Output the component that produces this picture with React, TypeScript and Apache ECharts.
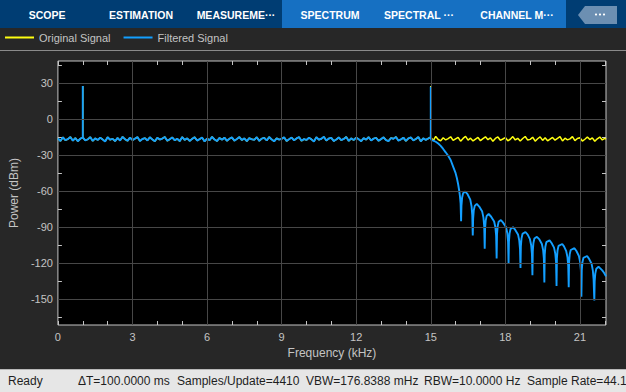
import React, { useEffect, useRef } from 'react';
import * as echarts from 'echarts';

// ---------- data ----------
const binStepKHz = 0.1;

// Original signal noise floor, dBm, at 0.0, 0.1, ... 22.0 kHz
const originalFloor = [
  -16.0, -18.2, -15.1, -17.5, -16.6, -14.8, -17.9, -15.7, -18.4, -16.3,
  -15.2, -17.6, -16.8, -14.9, -18.1, -16.0, -17.3, -15.4, -16.9, -18.5,
  -15.0, -17.1, -16.4, -18.3, -15.6, -17.8, -14.7, -16.7, -18.0, -15.3,
  -17.4, -16.2, -14.9, -18.2, -16.5, -15.8, -17.7, -15.1, -16.9, -18.4,
  -15.5, -17.0, -16.1, -14.8, -18.0, -16.7, -15.2, -17.6, -16.3, -18.3,
  -14.9, -17.3, -15.9, -18.1, -16.4, -15.0, -17.8, -16.6, -15.3, -18.5,
  -16.1, -17.5, -14.7, -16.9, -18.2, -15.6, -17.1, -15.4, -18.0, -16.3,
  -15.2, -17.9, -16.5, -14.9, -17.4, -16.0, -18.3, -15.7, -16.8, -17.2,
  -15.0, -18.1, -16.2, -15.5, -17.7, -14.8, -16.9, -18.4, -15.9, -17.0,
  -16.4, -15.1, -18.2, -16.7, -15.3, -17.6, -16.0, -14.9, -18.0, -16.6,
  -17.3, -15.4, -16.8, -18.5, -15.0, -17.1, -16.3, -14.7, -17.8, -16.1,
  -15.6, -18.2, -16.9, -15.2, -17.5, -16.4, -14.8, -18.1, -16.0, -17.4,
  -15.3, -16.7, -18.3, -15.8, -17.0, -14.9, -17.7, -16.2, -15.5, -18.0,
  -16.6, -15.1, -17.4, -18.2, -15.7, -16.3, -14.8, -17.9, -16.8, -15.4,
  -18.1, -16.0, -15.2, -17.6, -16.5, -14.9, -18.4, -15.9, -17.2, -16.1,
  -15.0, -17.8, -14.4, -16.9, -18.0, -15.5, -17.3, -16.2, -14.6, -17.7,
  -16.4, -15.1, -18.3, -16.0, -14.3, -17.5, -15.8, -18.1, -16.6, -15.2,
  -17.9, -16.2, -14.7, -17.1, -15.6, -18.4, -16.0, -14.8, -17.6, -16.5,
  -15.3, -18.0, -16.7, -14.5, -17.3, -15.9, -18.2, -16.1, -14.4, -17.4,
  -16.8, -15.0, -18.3, -16.3, -14.7, -17.7, -15.5, -18.0, -16.6, -15.2,
  -17.5, -16.0, -14.6, -18.1, -15.8, -17.2, -16.4, -14.5, -17.9, -16.1,
  -15.4, -18.2, -16.7, -14.8, -17.0, -15.6, -18.4, -16.3, -14.9, -17.3,
  -16.0,
];
const originalEndFreq = 22.05;
const originalEndPower = -16.6;

// Filtered signal noise floor (passband follows the original), dBm, at 0.0 ... 15.0 kHz
const filteredFloor = [
  -16.0, -18.2, -15.1, -17.5, -16.6, -14.8, -17.9, -15.7, -18.4, -16.3,
  -15.2, -17.6, -16.8, -14.9, -18.1, -16.0, -17.3, -15.4, -16.9, -18.5,
  -15.0, -17.1, -16.4, -18.3, -15.6, -17.8, -14.7, -16.7, -18.0, -15.3,
  -17.4, -16.2, -14.9, -18.2, -16.5, -15.8, -17.7, -15.1, -16.9, -18.4,
  -15.5, -17.0, -16.1, -14.8, -18.0, -16.7, -15.2, -17.6, -16.3, -18.3,
  -14.9, -17.3, -15.9, -18.1, -16.4, -15.0, -17.8, -16.6, -15.3, -18.5,
  -16.1, -17.5, -14.7, -16.9, -18.2, -15.6, -17.1, -15.4, -18.0, -16.3,
  -15.2, -17.9, -16.5, -14.9, -17.4, -16.0, -18.3, -15.7, -16.8, -17.2,
  -15.0, -18.1, -16.2, -15.5, -17.7, -14.8, -16.9, -18.4, -15.9, -17.0,
  -16.4, -15.1, -18.2, -16.7, -15.3, -17.6, -16.0, -14.9, -18.0, -16.6,
  -17.3, -15.4, -16.8, -18.5, -15.0, -17.1, -16.3, -14.7, -17.8, -16.1,
  -15.6, -18.2, -16.9, -15.2, -17.5, -16.4, -14.8, -18.1, -16.0, -17.4,
  -15.3, -16.7, -18.3, -15.8, -17.0, -14.9, -17.7, -16.2, -15.5, -18.0,
  -16.6, -15.1, -17.4, -18.2, -15.7, -16.3, -14.8, -17.9, -16.8, -15.4,
  -18.1, -16.0, -15.2, -17.6, -16.5, -14.9, -18.4, -15.9, -17.2, -16.1,
  -15.0,
];

// Tones (kHz) and their peak power (dBm)
const toneFreqs = [1, 15];
const originalTonePeaks = [27.7, 27.7];
const filteredTonePeaks = [27.7, 27.1];

// Filtered signal above the passband: stopband roll-off and side lobes
const rolloffFreq = [
  15.02, 15.1, 15.2, 15.3, 15.4, 15.5, 15.6, 15.7, 15.8, 15.9, 16.0, 16.05, 16.1, 16.14, 16.17, 16.2, 16.22,
  16.235, 16.26, 16.3, 16.39, 16.48, 16.59, 16.64, 16.67, 16.69,
  16.705, 16.73, 16.77, 16.85, 16.95, 17.07, 17.12, 17.15, 17.17,
  17.185, 17.21, 17.25, 17.33, 17.43, 17.55, 17.6, 17.63, 17.65,
  17.665, 17.69, 17.73, 17.82, 17.91, 18.03, 18.08, 18.11, 18.13,
  18.145, 18.17, 18.21, 18.31, 18.4, 18.51, 18.56, 18.59, 18.61,
  18.625, 18.65, 18.69, 18.81, 18.9, 18.99, 19.04, 19.07, 19.09,
  19.105, 19.13, 19.17, 19.27, 19.37, 19.47, 19.52, 19.55, 19.57,
  19.585, 19.61, 19.65, 19.78, 19.86, 19.96, 20.01, 20.04, 20.06,
  20.075, 20.1, 20.14, 20.29, 20.36, 20.45, 20.5, 20.53, 20.55,
  20.565, 20.59, 20.63, 20.78, 20.86, 20.96, 21.01, 21.04, 21.06,
  21.075, 21.1, 21.14, 21.29, 21.37, 21.47, 21.52, 21.55, 21.58,
  21.595, 21.62, 21.66, 21.75, 21.83, 21.9, 21.97, 22.05,
];
const rolloffPower = [
  -17.2, -17.8, -18.8, -20.3, -22.2, -24.8, -27.6, -30.5, -34, -39.5, -45, -49, -54, -59, -63.5, -70, -85,
  -72, -65.5, -61.8, -60.3, -62.5, -67, -72.5, -80, -97,
  -83, -76, -72.2, -70.6, -72.8, -77, -82, -89, -108,
  -91, -84.5, -80.6, -79, -81.3, -85.2, -90, -97, -116,
  -96, -89.5, -85.4, -84, -86.2, -90, -95, -102, -120,
  -102, -95.2, -91.4, -90, -92.3, -96, -101, -108, -124,
  -106, -99.5, -95.6, -94, -96.2, -100, -105, -112, -130,
  -110, -103.2, -99.4, -98, -100.2, -104, -109, -116, -136,
  -113, -106.3, -102.5, -101, -103.2, -107, -112, -119, -139,
  -116, -109.4, -105.6, -104, -106, -110, -115, -122, -140,
  -119, -112.6, -109, -107.5, -109.8, -114, -119, -126, -148,
  -126, -119.5, -115.6, -114, -116.4, -120.5, -126, -133, -151,
  -135, -128.5, -124.6, -123, -124.5, -126, -128, -131,
];

// Axes
const xRange = [0, 22.05];
const yRange = [-171.5, 48.5];
const xMajorTicks = [0, 3, 6, 9, 12, 15, 18, 21];
const xMinorTicks = [1, 2, 4, 5, 7, 8, 10, 11, 13, 14, 16, 17, 19, 20, 22];
const yMajorTicks = [30, 0, -30, -60, -90, -120, -150];
const yMinorTicks = [45, 15, -15, -45, -75, -105, -135, -165];

// Texts
const seriesNames = ['Original Signal', 'Filtered Signal'];
const tabLabels = ['SCOPE', 'ESTIMATION', 'MEASUREME\u00B7\u00B7\u00B7', 'SPECTRUM', 'SPECTRAL \u00B7\u00B7\u00B7', 'CHANNEL M\u00B7\u00B7\u00B7'];
const statusItems = ['Ready', '\u0394T=100.0000 ms', 'Samples/Update=4410', 'VBW=176.8388 mHz', 'RBW=10.0000 Hz', 'Sample Rate=44.1'];

// ---------- build ----------
function buildFloor(floor: number[], peaks: number[]) {
  const out: number[][] = [];
  floor.forEach((v, i) => {
    const f = Math.round(i * binStepKHz * 100) / 100;
    out.push([f, v]);
    const k = toneFreqs.indexOf(f);
    if (k >= 0) {
      out.push([f, peaks[k]]);
      out.push([f, v]);
    }
  });
  return out;
}

const FONT = '"Liberation Sans", Arial, Helvetica, sans-serif';
const AXIS_C = '#c4c4c4';
const GRID_C = '#474747';

export default function App() {
  const ref = useRef<HTMLDivElement>(null);

  useEffect(() => {
    document.body.style.margin = '0';
    const chart = echarts.init(ref.current!, null, { renderer: 'svg' });

    const originalData = buildFloor(originalFloor, originalTonePeaks);
    originalData.push([originalEndFreq, originalEndPower]);
    const filteredData = buildFloor(filteredFloor, filteredTonePeaks);
    rolloffFreq.forEach((f, i) => filteredData.push([f, rolloffPower[i]]));

    const xTicksAll = [...xMajorTicks, ...xMinorTicks].sort((a, b) => a - b);
    const yTicksAll = [...yMajorTicks, ...yMinorTicks].sort((a, b) => a - b);

    const tabCenters = [47, 141, 236, 330, 419, 517];
    const statusX = [8, 78, 177, 306, 424, 527];

    const graphic: any[] = [
      { type: 'rect', z: 0, shape: { x: 0, y: 0, width: 626, height: 28 }, style: { fill: '#003d73' } },
      { type: 'rect', z: 1, shape: { x: 282, y: 0, width: 284, height: 28 }, style: { fill: '#1670c2' } },
      ...tabLabels.map((t, i) => ({
        type: 'text', z: 2, x: tabCenters[i], y: 15,
        style: { text: t, fill: '#ffffff', fontSize: 10.5, fontWeight: 'bold', fontFamily: FONT, align: 'center', verticalAlign: 'middle' },
      })),
      { type: 'polygon', z: 2, shape: { points: [[585, 6], [617, 6], [617, 24], [585, 24], [578, 15]] }, style: { fill: '#6c8fb2' } },
      ...[596, 600, 604].map((cx) => ({ type: 'circle', z: 3, shape: { cx, cy: 14.5, r: 1.1 }, style: { fill: '#ffffff' } })),
      { type: 'line', z: 2, shape: { x1: 0, y1: 50.5, x2: 626, y2: 50.5 }, style: { stroke: '#8a8a8a', lineWidth: 1 } },
      { type: 'rect', z: 0, shape: { x: 0, y: 370, width: 626, height: 22 }, style: { fill: '#e6e6e6' } },
      { type: 'line', z: 1, shape: { x1: 0, y1: 369.5, x2: 626, y2: 369.5 }, style: { stroke: '#b8b8b8', lineWidth: 1 } },
      ...statusItems.map((t, i) => ({
        type: 'text', z: 2, x: statusX[i], y: 381,
        style: { text: t, fill: '#1e1e1e', fontSize: 12, fontFamily: FONT, align: 'left', verticalAlign: 'middle' },
      })),
    ];

    const tickAxisBase = {
      type: 'value' as const,
      axisLine: { show: false, onZero: false },
      splitLine: { show: false },
    };

    const option: any = {
      animation: false,
      backgroundColor: '#272727',
      textStyle: { fontFamily: FONT },
      graphic,
      legend: {
        left: 5, top: 32, padding: 0, icon: 'rect', itemWidth: 29, itemHeight: 2, itemGap: 13,
        textStyle: { color: '#c4c4c4', fontSize: 11, fontFamily: FONT },
        data: seriesNames,
        selectedMode: false,
      },
      grid: {
        left: 55, top: 61, width: 551, height: 264,
        show: true, backgroundColor: '#000000', borderColor: AXIS_C, borderWidth: 1,
        containLabel: false,
      },
      xAxis: [
        {
          ...tickAxisBase, position: 'bottom', min: xRange[0], max: xRange[1],
          name: 'Frequency (kHz)', nameLocation: 'middle', nameGap: 22,
          nameTextStyle: { color: AXIS_C, fontSize: 12, fontFamily: FONT },
          axisTick: { show: true, inside: true, length: 4, customValues: xTicksAll, lineStyle: { color: AXIS_C } },
          axisLabel: { show: true, customValues: xMajorTicks, color: AXIS_C, fontSize: 11, margin: 6, fontFamily: FONT },
        },
        {
          ...tickAxisBase, position: 'top', min: xRange[0], max: xRange[1],
          axisTick: { show: true, inside: true, length: 4, customValues: xTicksAll, lineStyle: { color: AXIS_C } },
          axisLabel: { show: false },
        },
      ],
      yAxis: [
        {
          ...tickAxisBase, position: 'left', min: yRange[0], max: yRange[1],
          name: 'Power (dBm)', nameLocation: 'middle', nameGap: 35,
          nameTextStyle: { color: AXIS_C, fontSize: 12, fontFamily: FONT },
          axisTick: { show: true, inside: true, length: 4, customValues: yTicksAll, lineStyle: { color: AXIS_C } },
          axisLabel: { show: true, customValues: yMajorTicks, color: AXIS_C, fontSize: 11, margin: 5, fontFamily: FONT },
        },
        {
          ...tickAxisBase, position: 'right', min: yRange[0], max: yRange[1],
          axisTick: { show: true, inside: true, length: 4, customValues: yTicksAll, lineStyle: { color: AXIS_C } },
          axisLabel: { show: false },
        },
      ],
      series: [
        {
          name: 'grid', type: 'line', z: 1, silent: true,
          data: [[xRange[0], yRange[0]], [xRange[1], yRange[0]]],
          symbol: 'none', showSymbol: false,
          lineStyle: { opacity: 0 },
          markLine: {
            silent: true, symbol: ['none', 'none'], label: { show: false },
            lineStyle: { color: GRID_C, type: 'solid', width: 1 },
            emphasis: { disabled: true },
            data: [
              ...xMajorTicks.filter((v) => v > xRange[0]).map((v) => ({ xAxis: v })),
              ...yMajorTicks.map((v) => ({ yAxis: v })),
            ],
          },
        },
        {
          name: seriesNames[0], type: 'line', data: originalData, z: 2,
          showSymbol: false, symbol: 'none', silent: true,
          color: '#ffff11',
          lineStyle: { color: '#ffff11', width: 1.5 },
          emphasis: { disabled: true },
        },
        {
          name: seriesNames[1], type: 'line', data: filteredData, z: 3,
          showSymbol: false, symbol: 'none', silent: true,
          color: '#139fff',
          lineStyle: { color: '#139fff', width: 1.9 },
          emphasis: { disabled: true },
        },
      ],
    };

    chart.setOption(option);
    return () => chart.dispose();
  }, []);

  return <div ref={ref} style={{ width: 626, height: 392, overflow: 'hidden' }} />;
}
